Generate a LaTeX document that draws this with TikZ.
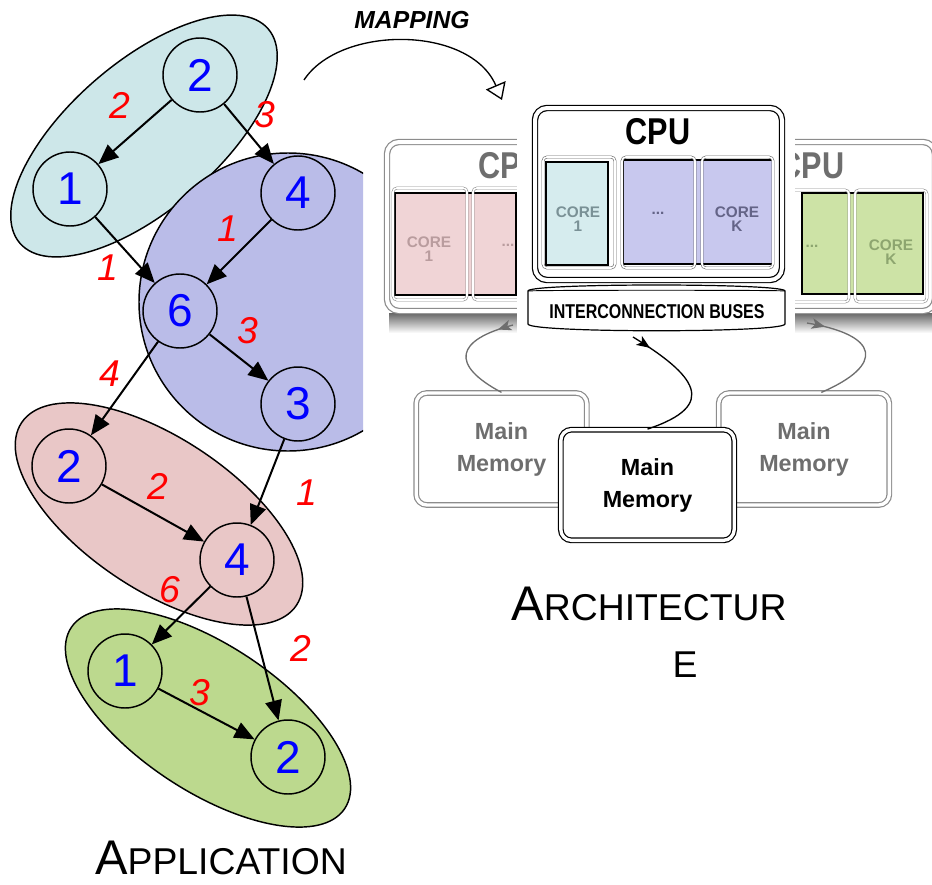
\documentclass[tikz,border=0pt]{standalone}
\usepackage{fontspec}
\setmainfont{Liberation Sans}
\usepackage{graphicx}
\usetikzlibrary{arrows.meta,decorations.markings}

\definecolor{clustcyan}{RGB}{205,231,233}
\definecolor{clustblue}{RGB}{186,188,232}
\definecolor{clustpink}{RGB}{233,199,199}
\definecolor{clustgreen}{RGB}{188,217,142}
\definecolor{corecyan}{RGB}{214,236,238}
\definecolor{coreblue}{RGB}{200,200,238}
\definecolor{corepink}{RGB}{240,212,214}
\definecolor{coregreen}{RGB}{205,227,166}
\definecolor{fadegray}{RGB}{110,110,110}
\definecolor{fadeline}{RGB}{140,140,140}
\definecolor{pinktext}{RGB}{185,156,158}
\definecolor{greentext}{RGB}{141,165,111}
\definecolor{cyantext}{RGB}{122,145,150}
\definecolor{bluetext}{RGB}{100,100,135}

\newcommand{\fakesc}[2]{{\fontsize{36.5}{36.5}\selectfont #1}{\fontsize{28}{28}\selectfont #2}}

\tikzset{
	task/.style={circle, draw=black, line width=1.1pt, minimum size=55.5pt, inner sep=0pt, text=blue, font=\fontsize{34.5}{34.5}\selectfont},
	dep/.style={-{Triangle[length=15pt,width=12.5pt]}, line width=1.5pt},
	wt/.style={text=red, inner sep=0pt, font=\itshape\fontsize{28}{28}\selectfont},
	cluster/.style={draw=black, line width=1.1pt},
	cpubox/.style={draw=#1, double=white, double distance=3pt, line width=0.9pt, rounded corners=9pt, fill=white},
	cpubox/.default=black,
	corebox/.style={draw=#1, double=white, double distance=1.2pt, line width=0.45pt, rounded corners=3pt},
	coremap/.style={draw=black, line width=1.1pt, fill=#1},
	coretext/.style={text=#1, inner sep=0pt, align=center, font=\bfseries\fontsize{11.5}{10.5}\selectfont},
	cputitle/.style={text=#1, inner sep=0pt, font=\bfseries\fontsize{28}{28}\selectfont},
	mem/.style={draw=#1, double=white, double distance=2.5pt, line width=0.9pt, rounded corners=8pt, fill=white, minimum width=128pt, minimum height=84pt, align=center, font=\bfseries\fontsize{17.5}{24}\selectfont},
	memlink/.style={draw=#1, line width=1pt, postaction={decorate}, decoration={markings, mark=at position 0.14 with {\arrow{Stealth[length=10pt,width=8pt,inset=2.5pt]}}}},
}
\tikzset{every picture/.style={line width=0.75pt}}

\begin{document}
\begin{tikzpicture}[x=0.75pt,y=0.75pt,yscale=-1,xscale=1]
	\clip (0,0) rectangle (932,885);

	%Clusters
	\draw [cluster, fill=clustcyan, rotate around={-40.8:(144,136)}] (144,136) ellipse (164 and 74);
	\begin{scope}
		\clip (0,0) rectangle (363,885);
		\draw [cluster, fill=clustblue] (288,302) circle (149);
	\end{scope}
	\draw [cluster, fill=clustpink, rotate around={33.6:(159,514)}] (159,514) ellipse (165 and 76);
	\draw [cluster, fill=clustgreen, rotate around={33.5:(208,718)}] (208,718) ellipse (164 and 73);

	%Tasks
	\node [task] (c2) at (200,75) {2};
	\node [task] (c1) at (70,189) {1};
	\node [task] (b4) at (298,193) {4};
	\node [task] (b6) at (180,311) {6};
	\node [task] (b3) at (298,404) {3};
	\node [task] (p2) at (69,466) {2};
	\node [task] (p4) at (237,560) {4};
	\node [task] (g1) at (125,671) {1};
	\node [task] (g2) at (288,757) {2};

	%Dependencies
	\draw [dep] (c2) -- (c1);
	\draw [dep] (c2) -- (b4);
	\draw [dep] (c1) -- (b6);
	\draw [dep] (b4) -- (b6);
	\draw [dep] (b6) -- (b3);
	\draw [dep] (b6) -- (p2);
	\draw [dep] (b3) -- (p4);
	\draw [dep] (p2) -- (p4);
	\draw [dep] (p4) -- (g1);
	\draw [dep] (p4) -- (g2);
	\draw [dep] (g1) -- (g2);

	% Weights
	\node [wt] (w1) at (120,105) {2};
	\node [wt] (w2) at (265,115) {3};
	\node [wt] (w3) at (108,268) {1};
	\node [wt] (w4) at (228,229) {1};
	\node [wt] (w5) at (248,331) {3};
	\node [wt] (w6) at (110,374) {4};
	\node [wt] (w7) at (307,493) {1};
	\node [wt] (w8) at (158,486) {2};
	\node [wt] (w9) at (170,590) {6};
	\node [wt] (w10) at (301,648) {2};
	\node [wt] (w11) at (200,693) {3};

	% Text Node
	\node [anchor=base, inner sep=0pt] (app) at (221,874) {\fakesc{A}{PPLICATION}};

	%Mapping arrow
	\node [anchor=base, font=\bfseries\itshape\fontsize{18.5}{18.5}\selectfont] (maptxt) at (412,28) {MAPPING};
	\coordinate (mapfrom) at (304,80);
	\coordinate (mapto) at (502,100);
	\draw [-{Triangle[open,length=12pt,width=16pt]}, line width=1pt] (mapfrom) .. controls (340,25) and (470,25) .. (mapto);

	%Side CPUs
	\shade [top color=black!60, bottom color=white] (389,313) rectangle (632,333);
	\shade [top color=black!60, bottom color=white] (690,313) rectangle (932,333);
	\draw [cpubox=fadeline] (387,142) rectangle (634,311);
	\draw [cpubox=fadeline] (688,142) rectangle (935,311);
	\node [cputitle=fadegray] (lcpu) at (511,166) {\scalebox{0.82}[1]{CPU}};
	\node [cputitle=fadegray] (rcpu) at (812,166) {\scalebox{0.82}[1]{CPU}};
	\draw [coremap=corepink] (395,193) rectangle (516,295);
	\draw [coremap=coregreen] (802,193) rectangle (923,294);
	\draw [corebox=fadeline] (393,188) rectangle (467,300);
	\draw [corebox=fadeline] (473,188) rectangle (547,300);
	\draw [corebox=fadeline] (553,188) rectangle (627,300);
	\draw [corebox=fadeline] (697,190) rectangle (769,302);
	\draw [corebox=fadeline] (776,190) rectangle (849,302);
	\draw [corebox=fadeline] (855,190) rectangle (927,302);
	\node [coretext=pinktext] (lcore1) at (429,249) {CORE\\1};
	\node [coretext=pinktext] (ldots) at (508,245) {...};
	\node [coretext=greentext] (rdots) at (812,246) {...};
	\node [coretext=greentext] (rcorek) at (891,252) {CORE\\K};

	%Front CPU
	\fill [white] (517,96) rectangle (795,340);
	\draw [cpubox] (535,108) rectangle (782,280);
	\node [cputitle=black] (cpu) at (658,132) {\scalebox{0.82}[1]{CPU}};
	\draw [coremap=corecyan] (546,162) rectangle (608,265);
	\draw [coremap=coreblue] (623,160) rectangle (773,264);
	\draw [corebox=black!60] (543,157) rectangle (615,268);
	\draw [corebox=black!60] (622,157) rectangle (695,268);
	\draw [corebox=black!60] (702,157) rectangle (773,268);
	\node [coretext=cyantext] (core1) at (578,219) {CORE\\1};
	\node [coretext=bluetext] (cdots) at (658,213) {...};
	\node [coretext=bluetext] (corek) at (737,219) {CORE\\K};

	%Buses
	\draw [fill=white, line width=0.9pt] (528,291) .. controls (528,283) and (785,283) .. (785,291) -- (785,324) .. controls (785,333) and (528,333) .. (528,324) -- cycle;
	\draw [line width=0.7pt] (528,291) .. controls (528,290) and (785,290) .. (785,291);
	\node [font=\bfseries\fontsize{15}{15}\selectfont, inner sep=0pt] (bus) at (657,312) {\scalebox{0.8}[1]{INTERCONNECTION BUSES}};

	%Memories
	\node [mem=fadeline, text=fadegray] (lmem) at (501.5,449) {Main\\Memory};
	\node [mem=fadeline, text=fadegray] (rmem) at (804,449) {Main\\Memory};
	\node [mem=black, minimum width=130pt, minimum height=83pt] (cmem) at (647.5,485) {Main\\Memory};

	%Links
	\coordinate (lout) at (513,325);
	\coordinate (cout) at (633,337);
	\coordinate (rout) at (807,323);
	\draw [memlink=fadegray] (lout) .. controls (455,340) and (450,365) .. (lmem.north);
	\draw [memlink=black] (cout) .. controls (695,375) and (720,405) .. (cmem.north);
	\draw [memlink=fadegray] (rout) .. controls (880,335) and (885,365) .. ([xshift=13pt]rmem.north);

	% Text Node
	\node [anchor=base] (arch) at (649,620) {\fakesc{A}{RCHITECTUR}};
	\node [anchor=base] (arche) at (685,677) {\fontsize{28}{28}\selectfont E};

\end{tikzpicture}
\end{document}
